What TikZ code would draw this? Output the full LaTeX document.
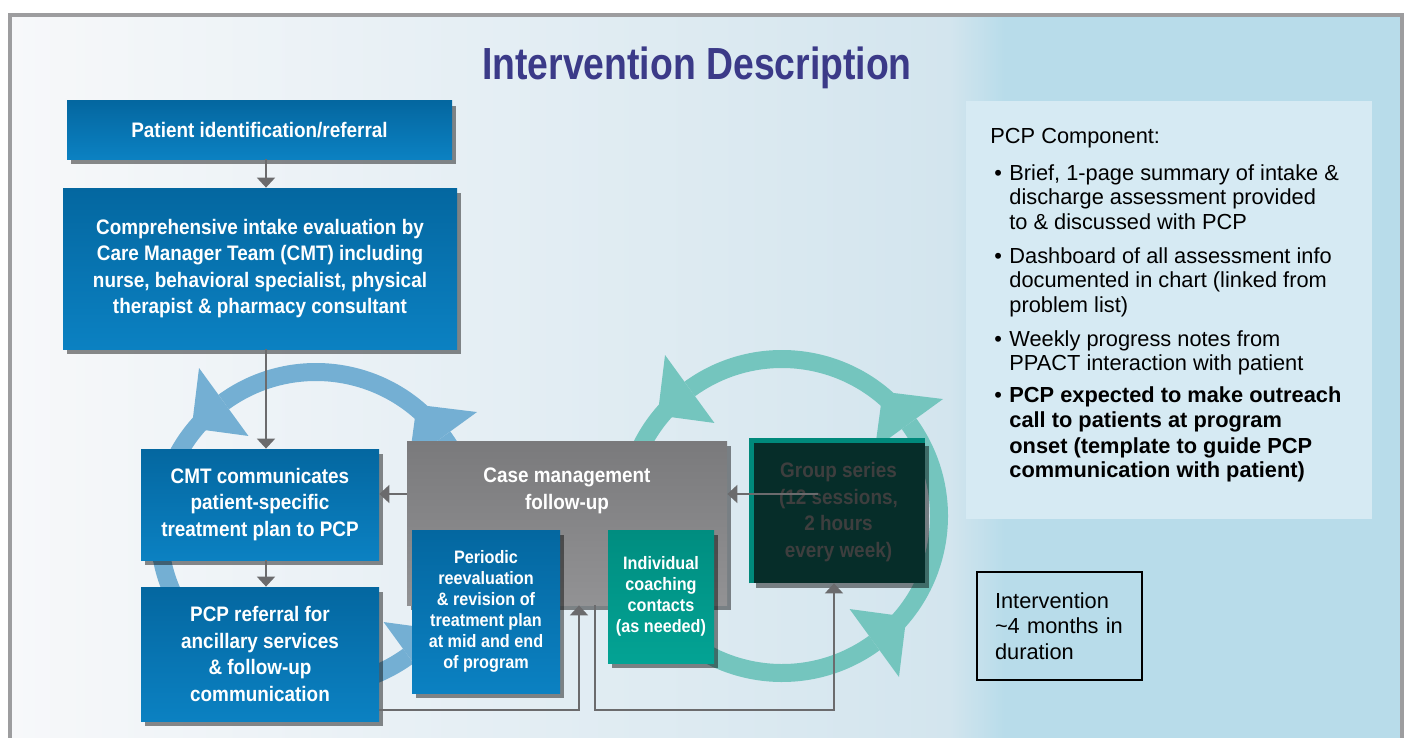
\documentclass[tikz,border=0pt]{standalone}
\usepackage{fontspec}
\setmainfont{Liberation Sans}
\newfontfamily\headfont[FakeStretch=0.83]{Liberation Sans}
\newfontfamily\boxfont[FakeStretch=0.9]{Liberation Sans}
\usetikzlibrary{arrows.meta,shadows}

\definecolor{framegray}{HTML}{9D9D9F}
\definecolor{bgleft}{HTML}{F7F8FA}
\definecolor{bgmid}{HTML}{D3E5EE}
\definecolor{bgright}{HTML}{B8DCEA}
\definecolor{paneltint}{HTML}{D6EAF3}
\definecolor{titleblue}{HTML}{3B3A88}
\definecolor{boxtop}{HTML}{0467A0}
\definecolor{boxbottom}{HTML}{0B81C2}
\definecolor{casetop}{HTML}{7A7A7C}
\definecolor{casebottom}{HTML}{929294}
\definecolor{coachtop}{HTML}{008D80}
\definecolor{coachbottom}{HTML}{03A394}
\definecolor{groupfill}{HTML}{062D29}
\definecolor{groupedge}{HTML}{00897B}
\definecolor{grouptext}{HTML}{3E3E3E}
\definecolor{linkgray}{HTML}{6B6B6D}
\definecolor{ringblue}{HTML}{74AFD3}
\definecolor{ringteal}{HTML}{74C5BE}

% four arc arrows forming one cycle round a centre
\newcommand{\cyclering}[2]{%
  \begin{scope}[shift={#1}, yscale=-1]
    \foreach \b in {216,306,36,126}{
      \draw[#2, line width=9pt] ({\b-86}:157) arc[start angle=\b-86, end angle=\b, radius=157];
      \fill[#2] (\b:115) -- (\b:199) -- ({\b+15}:160) -- cycle;
    }
  \end{scope}}

\begin{document}
\begin{tikzpicture}[x=0.5pt, y=-0.5pt,
  boxlabel/.style={inner sep=0pt, align=center, text=white,
    font=\boxfont\bfseries\fontsize{10.5}{13.3}\selectfont},
  flowbox/.style={boxlabel,
    drop shadow={shadow xshift=2pt, shadow yshift=-2.5pt, fill=black, opacity=0.45}},
  bluebox/.style={flowbox, top color=boxtop, bottom color=boxbottom},
  smalltext/.style={font=\boxfont\bfseries\fontsize{9}{10.5}\selectfont},
  link/.style={draw=linkgray, line width=1pt, -{Triangle[width=9pt, length=5pt]}}]

\useasboundingbox (0,0) rectangle (1408,738);
\clip (0,0) rectangle (1408,738);

%fond et cadre

\fill[white] (0,0) rectangle (1408,738);
\fill[left color=bgleft, right color=bgmid] (10,15) rectangle (950,760);
\fill[left color=bgmid, right color=bgright] (949,15) rectangle (1005,760);
\fill[bgright] (1004,15) rectangle (1402,760);
\draw[framegray, line width=2pt] (10,760) -- (10,15) -- (1402,15) -- (1402,760);

\node[font=\headfont\bfseries\fontsize{22.5}{27}\selectfont, text=titleblue, anchor=base] (title) at (697,80) {Intervention Description};

%cycles

\cyclering{(316,529)}{ringblue}
\cyclering{(782,516)}{ringteal}

%blocs

\node[bluebox, minimum width=192.5pt, minimum height=29pt] (ident) at (259.5,130) {Patient identification/referral};
\node[bluebox, minimum width=197pt, minimum height=80.5pt] (intake) at (260,268.5) {Comprehensive intake evaluation by\\Care Manager Team (CMT) including\\nurse, behavioral specialist, physical\\therapist \& pharmacy consultant};
\node[bluebox, minimum width=119pt, minimum height=55.5pt] (cmt) at (260,504.5) {CMT communicates\\patient-specific\\treatment plan to PCP};
\node[bluebox, minimum width=119pt, minimum height=67pt] (pcpref) at (260,654) {PCP referral for\\ancillary services\\\& follow-up\\communication};

\node[flowbox, top color=casetop, bottom color=casebottom, minimum width=160pt, minimum height=82pt] (case) at (567,523) {};
\node[boxlabel] (casetext) at (567,491) {Case management\\follow-up};

\node[bluebox, smalltext, minimum width=74pt, minimum height=81.5pt] (review) at (486,611.5) {Periodic\\reevaluation\\\& revision of\\treatment plan\\at mid and end\\of program};
\node[flowbox, smalltext, top color=coachtop, bottom color=coachbottom, minimum width=53pt, minimum height=66.5pt] (coach) at (661,596.5) {Individual\\coaching\\contacts\\(as needed)};
\node[flowbox, fill=groupfill, text=grouptext, minimum width=86.5pt, minimum height=71pt] (group) at (838.5,512) {Group series\\(12 sessions,\\2 hours\\every week)};
\draw[groupedge, line width=2.5pt] (group.south west) -- (group.north west) -- (group.north east);

%volet PCP

\node[fill=paneltint, inner sep=0pt, minimum width=203pt, minimum height=209pt, anchor=north west] (panel) at (966,101) {};
\node[anchor=base west, inner sep=0pt, font=\fontsize{10.9}{12.5}\selectfont] (pcptext) at (990,143) {
    \begin{tabular}[t]{@{\hspace{2pt}}p{7.5pt}@{}l@{}}
        \multicolumn{2}{@{}l@{}}{PCP Component:}\\[6pt]
        \textbullet & Brief, 1-page summary of intake \&\\
         & discharge assessment provided\\
         & to \& discussed with PCP\\[4pt]
        \textbullet & Dashboard of all assessment info\\
         & documented in chart (linked from\\
         & problem list)\\[4pt]
        \textbullet & Weekly progress notes from\\
         & PPACT interaction with patient\\[3.5pt]
        \textbullet & \textbf{PCP expected to make outreach}\\
         & \textbf{call to patients at program}\\
         & \textbf{onset (template to guide PCP}\\
         & \textbf{communication with patient)}
    \end{tabular}
};

\node[draw=black, line width=0.7pt, inner xsep=9pt, text width=64.5pt, minimum height=54pt, align=left, font=\fontsize{10.9}{12.8}\selectfont] (duration) at (1059.5,626) {Intervention\\\textasciitilde 4 months in\\duration};

%flèches

\coordinate (spine) at (266,0);
\coordinate (grouptap) at (818,494);
\coordinate (loopA) at (579,710);
\coordinate (loopB) at (595,710);
\coordinate (loopC) at (834,710);

\draw[link] (ident.south -| spine) -- (intake.north -| spine);
\draw[link] (intake.south -| spine) -- (cmt.north -| spine);
\draw[link] (cmt.south -| spine) -- (pcpref.north -| spine);
\draw[link] (grouptap) -- (grouptap -| case.east);
\draw[link] (grouptap -| case.west) -- (grouptap -| cmt.east);
\draw[link] (loopA -| pcpref.east) -| (case.south -| loopA);
\draw[link] (case.south -| loopB) |- (loopC) -- (group.south -| loopC);
\end{tikzpicture}
\end{document}
